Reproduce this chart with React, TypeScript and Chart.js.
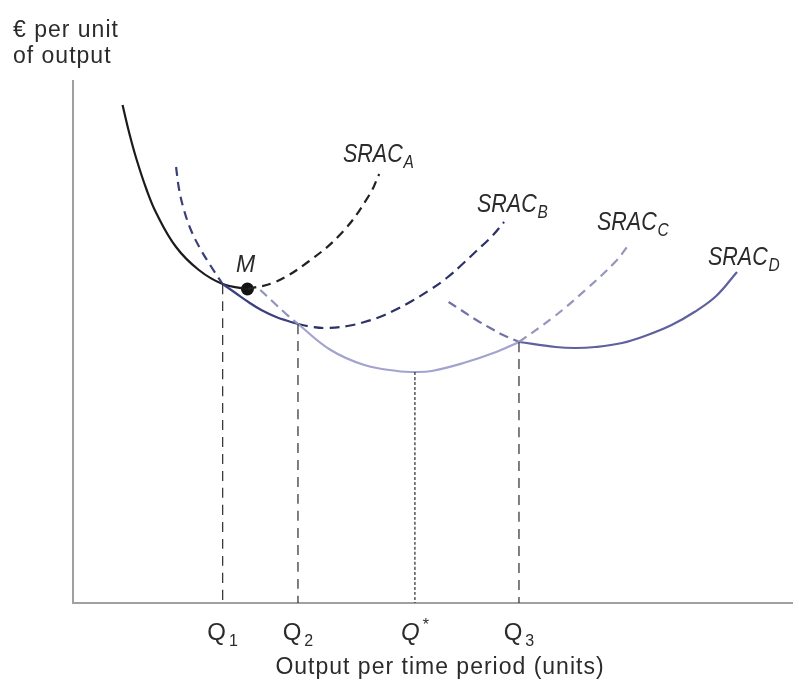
import React, { useEffect, useRef } from "react";
import { Chart, registerables } from "chart.js";

Chart.register(...registerables);

// Axis extent (output units, € per unit)
const X_MAX = 726;
const Y_MAX = 522;

// SRAC_A: solid part (left of M) and dashed part (right of M)
const SRAC_A_SOLID_X = [50, 57, 64, 74, 84, 104, 127, 151, 176];
const SRAC_A_SOLID_Y = [498, 469, 444, 414, 390, 356, 333, 319, 314];
const SRAC_A_DASH_X = [176, 204, 237, 272, 299, 309];
const SRAC_A_DASH_Y = [314, 321, 341, 371, 408, 429];

// Point M (minimum of SRAC_A)
const M_X = [176];
const M_Y = [314];

// SRAC_B: dashed left, solid (envelope) Q1..Q2, dashed right
const SRAC_B_LEFT_X = [104, 107, 112, 119, 128, 139, 151];
const SRAC_B_LEFT_Y = [436, 414, 393, 373, 355, 337, 319];
const SRAC_B_SOLID_X = [151, 164, 177, 190, 205, 217, 227];
const SRAC_B_SOLID_Y = [319, 310, 301, 293, 286, 282, 279];
const SRAC_B_RIGHT_X = [227, 242, 257, 277, 294, 312, 327, 342, 360, 377, 392, 407, 422, 435];
const SRAC_B_RIGHT_Y = [279, 276, 275, 277, 281, 287, 294, 302, 313, 325, 338, 352, 366, 381];

// SRAC_C: dashed left, solid Q2..Q3, dashed right
const SRAC_C_LEFT_X = [189, 202, 215, 227];
const SRAC_C_LEFT_Y = [313, 301, 289, 279];
const SRAC_C_SOLID_X = [227, 260, 294, 327, 345, 362, 394, 427, 450];
const SRAC_C_SOLID_Y = [279, 253, 238, 232, 231, 232, 240, 251, 261];
const SRAC_C_RIGHT_X = [450, 485, 517, 547, 562];
const SRAC_C_RIGHT_Y = [261, 286, 313, 341, 360];

// SRAC_D: dashed left, solid from Q3
const SRAC_D_LEFT_X = [379, 393, 407, 421, 434, 450];
const SRAC_D_LEFT_Y = [301, 292, 283, 275, 268, 261];
const SRAC_D_SOLID_X = [450, 487, 507, 527, 554, 577, 604, 627, 649, 670];
const SRAC_D_SOLID_Y = [261, 256, 255, 256, 260, 267, 278, 291, 307, 331];

// Output levels marked on the x axis and the cost where each drop line starts
const Q_NAMES = ["Q", "Q", "Q", "Q"];
const Q_SUBS = ["1", "2", "*", "3"];
const Q_VALUES = [151, 227, 345, 450];
const Q_COSTS = [319, 279, 231, 261];

const zip = (xs: number[], ys: number[]) => xs.map((x, i) => ({ x, y: ys[i] }));

const FONT = '"Liberation Sans", Arial, Helvetica, sans-serif';
const TEXT = "#2b2b2b";

function lineDs(data: any, color: string, dash: number[] = [], width = 2.2) {
  return {
    data,
    borderColor: color,
    borderWidth: width,
    borderDash: dash,
    pointRadius: 0,
    fill: false,
    showLine: true,
    tension: 0.4,
  };
}

const labelsPlugin = {
  id: "econLabels",
  afterDraw(chart: any) {
    const ctx = chart.ctx as CanvasRenderingContext2D;
    const xs = chart.scales.x;
    ctx.save();
    ctx.fillStyle = TEXT;
    ctx.textBaseline = "alphabetic";

    // y-axis title
    ctx.font = `23px ${FONT}`;
    (ctx as any).letterSpacing = "1px";
    ctx.textAlign = "left";
    ctx.fillText("€ per unit", 13, 37);
    ctx.fillText("of output", 13, 63);

    // x-axis title
    ctx.textAlign = "center";
    ctx.fillText("Output per time period (units)", 440, 674);
    (ctx as any).letterSpacing = "0px";

    // Q tick labels
    ctx.textAlign = "left";
    Q_VALUES.forEach((v, i) => {
      const px = xs.getPixelForValue(v);
      const isStar = Q_SUBS[i] === "*";
      ctx.font = isStar ? `italic 24px ${FONT}` : `24px ${FONT}`;
      const wMain = ctx.measureText(Q_NAMES[i]).width;
      ctx.font = `16px ${FONT}`;
      const wSub = ctx.measureText(Q_SUBS[i]).width;
      const total = wMain + 3 + wSub;
      const x0 = px - total / 2;
      ctx.font = isStar ? `italic 24px ${FONT}` : `24px ${FONT}`;
      ctx.fillText(Q_NAMES[i], x0, 640);
      ctx.font = `16px ${FONT}`;
      ctx.fillText(Q_SUBS[i], x0 + wMain + 3, isStar ? 630 : 646);
    });

    // SRAC labels (italic, slightly condensed)
    const srac = [
      { sub: "A", x: 343, y: 162 },
      { sub: "B", x: 477, y: 212 },
      { sub: "C", x: 597, y: 230 },
      { sub: "D", x: 708, y: 265 },
    ];
    srac.forEach((l) => {
      ctx.save();
      ctx.translate(l.x, l.y);
      ctx.scale(0.86, 1);
      ctx.font = `italic 25px ${FONT}`;
      ctx.fillText("SRAC", 0, 0);
      const w = ctx.measureText("SRAC").width;
      ctx.font = `italic 18px ${FONT}`;
      ctx.fillText(l.sub, w + 1, 6);
      ctx.restore();
    });

    // M label
    ctx.font = `italic 23px ${FONT}`;
    ctx.fillText("M", 236, 272);
    ctx.restore();
  },
};

export default function App() {
  const ref = useRef<HTMLCanvasElement | null>(null);

  useEffect(() => {
    if (!ref.current) return;
    const dropLines = Q_VALUES.map((q, i) =>
      lineDs(
        [
          { x: q, y: Q_COSTS[i] },
          { x: q, y: 0 },
        ],
        "#3a3a3a",
        Q_SUBS[i] === "*" ? [3, 2] : [10, 7],
        1.3
      )
    );

    const chart = new Chart(ref.current, {
      type: "line",
      data: {
        datasets: [
          ...dropLines,
          lineDs(zip(SRAC_C_LEFT_X, SRAC_C_LEFT_Y), "#8f92bd", [9, 6]),
          lineDs(zip(SRAC_C_SOLID_X, SRAC_C_SOLID_Y), "#a3a3cf"),
          lineDs(zip(SRAC_C_RIGHT_X, SRAC_C_RIGHT_Y), "#9496bb", [9, 6]),
          lineDs(zip(SRAC_D_LEFT_X, SRAC_D_LEFT_Y), "#7174a3", [9, 6]),
          lineDs(zip(SRAC_D_SOLID_X, SRAC_D_SOLID_Y), "#5f619f"),
          lineDs(zip(SRAC_B_LEFT_X, SRAC_B_LEFT_Y), "#3a3f7a", [9, 6]),
          lineDs(zip(SRAC_B_SOLID_X, SRAC_B_SOLID_Y), "#3b3f7e"),
          lineDs(zip(SRAC_B_RIGHT_X, SRAC_B_RIGHT_Y), "#2d3266", [10, 6]),
          lineDs(zip(SRAC_A_SOLID_X, SRAC_A_SOLID_Y), "#1b1b1b"),
          lineDs(zip(SRAC_A_DASH_X, SRAC_A_DASH_Y), "#222222", [9, 6]),
          {
            data: zip(M_X, M_Y),
            showLine: false,
            pointRadius: 6.5,
            pointBackgroundColor: "#141414",
            pointBorderColor: "#141414",
            borderWidth: 0,
          },
        ] as any,
      },
      options: {
        responsive: false,
        animation: false,
        layout: { padding: { left: 73, right: 0, top: 81, bottom: 78 } },
        plugins: { legend: { display: false }, tooltip: { enabled: false } },
        scales: {
          x: {
            type: "linear",
            min: 0,
            max: X_MAX,
            grid: { display: false, drawTicks: false },
            ticks: { display: false },
            border: { display: true, color: "#a0a0a0", width: 2 },
          },
          y: {
            type: "linear",
            min: 0,
            max: Y_MAX,
            grid: { display: false, drawTicks: false },
            ticks: { display: false },
            border: { display: true, color: "#a0a0a0", width: 2 },
          },
        },
      },
      plugins: [labelsPlugin],
    });
    return () => chart.destroy();
  }, []);

  return (
    <div style={{ position: "absolute", left: 0, top: 0, width: 799, height: 681, background: "#fff" }}>
      <canvas ref={ref} width={799} height={681} style={{ display: "block" }} />
    </div>
  );
}
